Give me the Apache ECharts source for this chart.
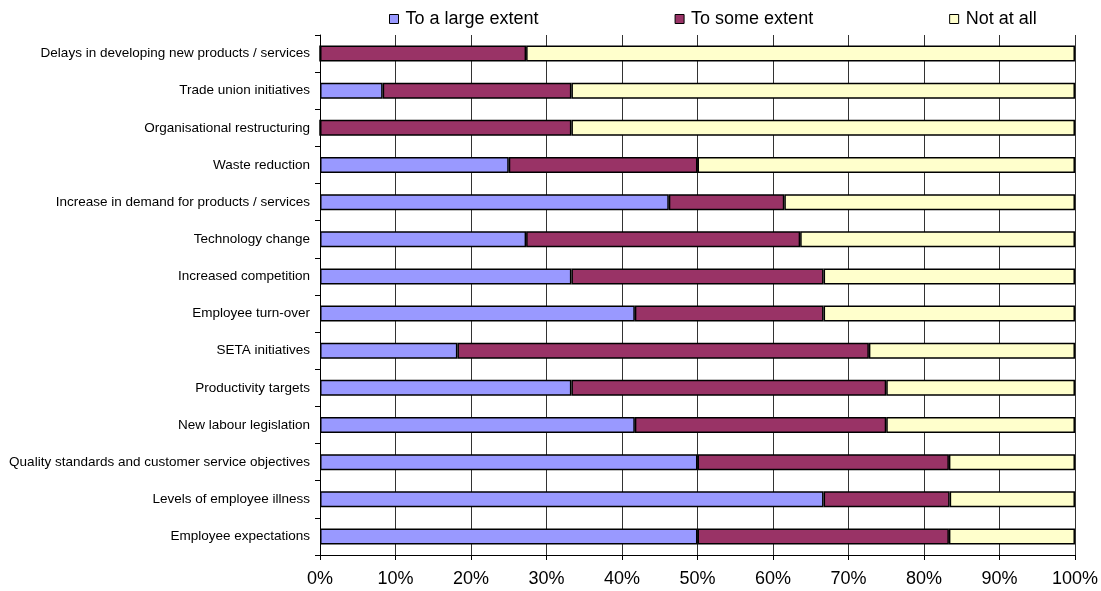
<!DOCTYPE html>
<html>
<head>
<meta charset="utf-8">
<script src="https://cdn.jsdelivr.net/npm/echarts@6/dist/echarts.min.js"></script>
<style>
  html, body { margin: 0; padding: 0; background: #fff; }
  #chart { width: 1101px; height: 591px; }
</style>
</head>
<body>
<div id="chart"></div>
<script>
// categories listed bottom to top (as ECharts draws a category y axis)
var categories = [
    'Employee expectations',
    'Levels of employee illness',
    'Quality standards and customer service objectives',
    'New labour legislation',
    'Productivity targets',
    'SETA initiatives',
    'Employee turn-over',
    'Increased competition',
    'Technology change',
    'Increase in demand for products / services',
    'Waste reduction',
    'Organisational restructuring',
    'Trade union initiatives',
    'Delays in developing new products / services'
];

// percentages
var largeExtent = [50, 66.7, 50, 41.7, 33.3, 18.2, 41.7, 33.3, 27.3, 46.2, 25, 0, 8.3, 0];
var someExtent  = [33.3, 16.7, 33.3, 33.3, 41.7, 54.5, 25, 33.4, 36.3, 15.3, 25, 33.3, 25, 27.3];
var notAtAll    = [16.7, 16.6, 16.7, 25, 25, 27.3, 33.3, 33.3, 36.4, 38.5, 50, 66.7, 66.7, 72.7];

var seriesNames = ['To a large extent', 'To some extent', 'Not at all'];
var seriesColors = ['#9999FF', '#993366', '#FFFFCC'];

var chart = echarts.init(document.getElementById('chart'));

function barSeries(name, data, color) {
    return {
        name: name,
        type: 'bar',
        stack: 'total',
        barWidth: 16,
        data: data,
        itemStyle: { color: color, borderColor: '#000', borderWidth: 1.5 },
        emphasis: { disabled: true }
    };
}

chart.setOption({
    animation: false,
    textStyle: { fontFamily: 'Liberation Sans, Arial, sans-serif' },
    legend: {
        top: 5,
        left: 384,
        itemGap: 136,
        itemWidth: 9,
        itemHeight: 9,
        icon: 'rect',
        textStyle: { fontSize: 18, color: '#000', padding: [0, 0, 0, 2] },
        data: seriesNames.map(function (n) {
            return { name: n, itemStyle: { borderColor: '#000', borderWidth: 1 } };
        })
    },
    grid: { left: 320, right: 26, top: 35, bottom: 36, containLabel: false },
    xAxis: {
        type: 'value',
        min: 0,
        max: 100,
        interval: 10,
        axisLine: { show: true, lineStyle: { color: '#000', width: 1 } },
        axisTick: { show: true, length: 5, lineStyle: { color: '#000' } },
        axisLabel: { formatter: '{value}%', fontSize: 18, color: '#000', margin: 15 },
        splitLine: { show: true, lineStyle: { color: '#333', width: 1 } }
    },
    yAxis: {
        type: 'category',
        data: categories,
        axisLine: { show: true, lineStyle: { color: '#000', width: 1 } },
        axisTick: { show: true, length: 5, lineStyle: { color: '#000' } },
        axisLabel: { fontSize: 13.5, color: '#000', margin: 10 }
    },
    series: [
        barSeries(seriesNames[0], largeExtent, seriesColors[0]),
        barSeries(seriesNames[1], someExtent, seriesColors[1]),
        barSeries(seriesNames[2], notAtAll, seriesColors[2])
    ]
});
</script>
</body>
</html>
